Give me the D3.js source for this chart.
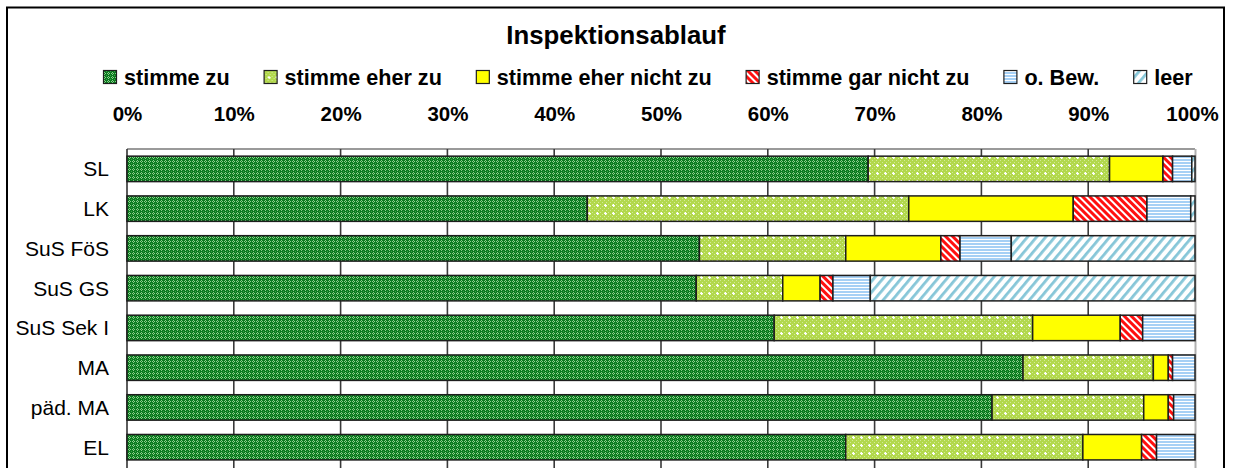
<!DOCTYPE html>
<html>
<head>
<meta charset="utf-8">
<script src="https://cdn.jsdelivr.net/npm/d3@7"></script>
<style>
  html, body { margin: 0; padding: 0; background: #fff; }
  svg { display: block; font-family: "Liberation Sans", Arial, sans-serif; }
</style>
</head>
<body>
<svg id="chart" width="1234" height="468"></svg>
<script>
// Categories (rows, top to bottom)
const categories = ["SL", "LK", "SuS FöS", "SuS GS", "SuS Sek I", "MA", "päd. MA", "EL"];

// Answer shares per category, in percent
const stimmeZu          = [69.4, 43.1, 53.6, 53.3, 60.6, 83.9, 81.0, 67.3];
const stimmeEherZu      = [22.6, 30.1, 13.7,  8.1, 24.2, 12.2, 14.2, 22.2];
const stimmeEherNichtZu = [ 5.0, 15.4,  8.9,  3.5,  8.2,  1.4,  2.3,  5.5];
const stimmeGarNichtZu  = [ 0.9,  6.9,  1.8,  1.2,  2.1,  0.4,  0.5,  1.4];
const ohneBewertung     = [ 1.8,  4.1,  4.8,  3.5,  4.9,  2.1,  2.0,  3.6];
const leer              = [ 0.3,  0.4, 17.2, 30.4,  0.0,  0.0,  0.0,  0.0];

const seriesNames = ["stimme zu", "stimme eher zu", "stimme eher nicht zu",
                     "stimme gar nicht zu", "o. Bew.", "leer"];
const seriesValues = [stimmeZu, stimmeEherZu, stimmeEherNichtZu,
                      stimmeGarNichtZu, ohneBewertung, leer];

const tickValues = [0, 10, 20, 30, 40, 50, 60, 70, 80, 90, 100];
const title = "Inspektionsablauf";

// ---- build table for d3.stack ----
const table = categories.map((c, i) => {
  const row = { category: c };
  seriesNames.forEach((s, k) => row[s] = seriesValues[k][i]);
  return row;
});
const stacked = d3.stack().keys(seriesNames)(table);

const svg = d3.select("#chart");

// ---- fill patterns ----
const defs = svg.append("defs");

function pat(id, w, h, bg, draw, transform) {
  const p = defs.append("pattern")
    .attr("id", id).attr("patternUnits", "userSpaceOnUse")
    .attr("width", w).attr("height", h);
  if (transform) p.attr("patternTransform", transform);
  p.append("rect").attr("width", w).attr("height", h).attr("fill", bg);
  draw(p);
  return p;
}
function px(p, pts, color) {
  pts.forEach(([x, y]) =>
    p.append("rect").attr("x", x).attr("y", y).attr("width", 1).attr("height", 1).attr("fill", color));
}

// dark green trellis
pat("p0", 4, 4, "#0a7a1f", p => {
  px(p, [[1,0],[0,1],[2,1],[1,2]], "#8ccf8c");
  px(p, [[3,3]], "#3f9f48");
});
// light green dotted
pat("p1", 8, 8, "#b2d84c", p => {
  px(p, [[0,0],[2,2],[4,0],[6,2],[0,4],[2,6],[4,4],[6,6]], "#d2ea98");
  px(p, [[5,5],[4,5],[6,5],[5,4],[5,6]], "#ffffff");
});
// yellow solid
pat("p2", 4, 4, "#ffff00", p => {});
// red diagonal stripes
pat("p3", 5, 5, "#ffffff", p => {
  p.append("rect").attr("x", 0).attr("y", 0).attr("width", 3).attr("height", 5).attr("fill", "#ff1010");
}, "rotate(-45)");
// light blue horizontal lines
pat("p4", 4, 3, "#ffffff", p => {
  p.append("rect").attr("x", 0).attr("y", 0).attr("width", 4).attr("height", 2).attr("fill", "#a6d0f5");
});
// light blue wide diagonals
pat("p5", 7, 7, "#ffffff", p => {
  p.append("rect").attr("x", 0).attr("y", 0).attr("width", 2.8).attr("height", 7).attr("fill", "#86c6d8");
}, "rotate(40)");

const fills = seriesNames.map((s, k) => `url(#p${k})`);

// ---- outer frame ----
svg.append("rect")
  .attr("x", 7).attr("y", 7.5).attr("width", 1217).attr("height", 480)
  .attr("fill", "none").attr("stroke", "#000").attr("stroke-width", 2);

// ---- scales ----
const plotLeft = 127, plotRight = 1195, plotTop = 149, step = 39.76;
const x = d3.scaleLinear().domain([0, 100]).range([plotLeft, plotRight]);
const y = d3.scaleBand().domain(categories)
  .range([plotTop, plotTop + step * categories.length])
  .paddingInner(0.36).paddingOuter(0.18);

// ---- plot area frame and gridlines ----
svg.append("line")
  .attr("x1", plotLeft).attr("x2", plotRight).attr("y1", plotTop).attr("y2", plotTop)
  .attr("stroke", "#9a9a9a").attr("stroke-width", 2);
svg.append("line")
  .attr("x1", plotRight + 0.5).attr("x2", plotRight + 0.5).attr("y1", plotTop).attr("y2", 470)
  .attr("stroke", "#b0b0b0").attr("stroke-width", 2);

svg.append("g").selectAll("line")
  .data(tickValues.slice(1, -1))
  .join("line")
  .attr("x1", d => x(d)).attr("x2", d => x(d))
  .attr("y1", plotTop).attr("y2", 470)
  .attr("stroke", "#3a3a3a").attr("stroke-width", 1.6);

svg.append("line")
  .attr("x1", plotLeft).attr("x2", plotLeft).attr("y1", plotTop).attr("y2", 470)
  .attr("stroke", "#333").attr("stroke-width", 1.6);

// ---- bars ----
svg.append("g").selectAll("g")
  .data(stacked)
  .join("g")
  .attr("fill", (d, k) => fills[k])
  .selectAll("rect")
  .data(d => d.filter(v => v[1] - v[0] > 0))
  .join("rect")
  .attr("x", d => x(d[0]))
  .attr("width", d => x(d[1]) - x(d[0]))
  .attr("y", d => y(d.data.category))
  .attr("height", y.bandwidth())
  .attr("stroke", "#1e1e1e").attr("stroke-width", 1.5);

// ---- top percent axis ----
const axisTop = d3.axisTop(x).tickValues(tickValues).tickFormat(d => d + "%").tickSize(0);
const ax = svg.append("g").attr("transform", "translate(0,121)").call(axisTop);
ax.select(".domain").remove();
ax.selectAll("text")
  .attr("dy", 0).attr("y", 0)
  .attr("font-family", "Liberation Sans, Arial, sans-serif")
  .attr("font-size", 20.5).attr("font-weight", "bold").attr("fill", "#000");
ax.selectAll(".tick").filter(d => d === 100).select("text").attr("dx", -3);

// ---- category axis ----
const axisLeft = d3.axisLeft(y).tickSize(0).tickPadding(0);
const ay = svg.append("g").attr("transform", "translate(109,0)").call(axisLeft);
ay.select(".domain").remove();
ay.selectAll("text")
  .attr("dy", "0.36em")
  .attr("font-family", "Liberation Sans, Arial, sans-serif")
  .attr("font-size", 21).attr("fill", "#000");

// ---- title ----
svg.append("text")
  .attr("x", 616).attr("y", 44)
  .attr("text-anchor", "middle")
  .attr("font-size", 25.8).attr("font-weight", "bold")
  .text(title);

// ---- legend ----
const legend = svg.append("g").attr("transform", "translate(103,0)");
let lx = 0;
seriesNames.forEach((s, k) => {
  const g = legend.append("g").attr("transform", `translate(${lx},0)`);
  g.append("rect")
    .attr("x", 0.5).attr("y", 70.5).attr("width", 13).attr("height", 13)
    .attr("fill", fills[k]).attr("stroke", "#1e1e1e").attr("stroke-width", 1.2);
  const t = g.append("text")
    .attr("x", 21).attr("y", 85)
    .attr("font-size", 21.6).attr("font-weight", "bold")
    .text(s);
  lx += 21 + t.node().getComputedTextLength() + 34;
});
</script>
</body>
</html>
